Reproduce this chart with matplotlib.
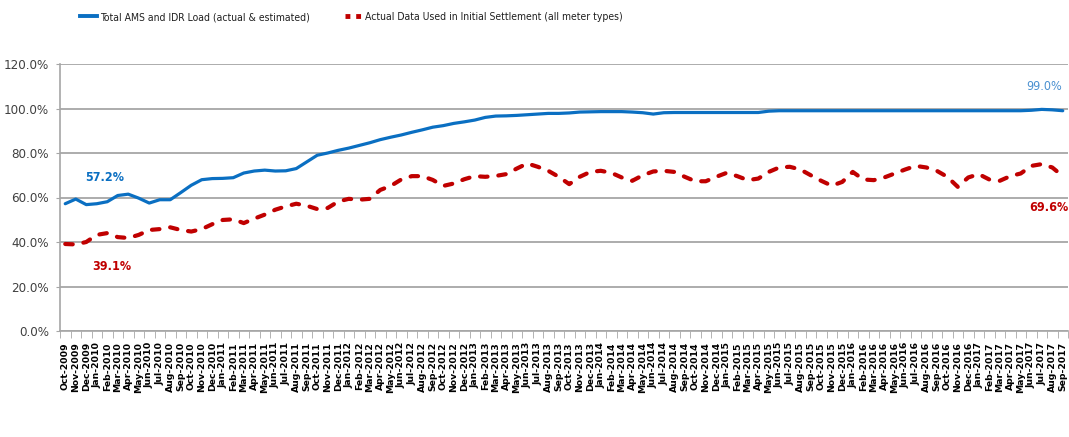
import matplotlib.pyplot as plt
from matplotlib import font_manager
from matplotlib.lines import Line2D
from matplotlib.ticker import FuncFormatter, FixedLocator
import pandas as pd

# monthly categories Oct-2009 .. Sep-2017
months = [d.strftime('%b-%Y') for d in pd.date_range('2009-10-01', '2017-09-01', freq='MS')]

total_load = [
    57.2, 59.3, 56.8, 57.2, 58.1, 60.9, 61.5, 59.7, 57.5, 59.0,
    59.0, 62.2, 65.5, 68.0, 68.5, 68.6, 68.9, 71.0, 71.9, 72.3,
    71.9, 72.0, 73.0, 76.0, 79.0, 80.0, 81.2, 82.2, 83.4, 84.6,
    86.0, 87.1, 88.1, 89.3, 90.4, 91.6, 92.3, 93.3, 94.0, 94.8,
    96.0, 96.6, 96.7, 96.9, 97.2, 97.5, 97.8, 97.8, 98.0, 98.4,
    98.5, 98.6, 98.6, 98.6, 98.4, 98.1, 97.5, 98.1, 98.2, 98.2,
    98.2, 98.2, 98.2, 98.2, 98.2, 98.2, 98.2, 98.8, 99.0, 99.0,
    99.0, 99.0, 99.0, 99.0, 99.0, 99.0, 99.0, 99.0, 99.0, 99.0,
    99.0, 99.0, 99.0, 99.0, 99.0, 99.0, 99.0, 99.0, 99.0, 99.0,
    99.0, 99.0, 99.2, 99.6, 99.4, 99.0,
]

actual_data = [
    39.1, 38.9, 40.0, 43.2, 44.0, 42.2, 41.8, 43.2, 45.4, 45.8,
    46.6, 45.4, 44.7, 45.8, 48.0, 49.9, 50.2, 48.5, 50.5, 52.3,
    54.5, 56.0, 57.2, 56.3, 54.8, 55.3, 58.2, 59.4, 59.0, 59.4,
    63.4, 65.2, 68.1, 69.6, 69.6, 67.9, 65.2, 66.3, 68.2, 69.6,
    69.3, 69.7, 70.5, 73.0, 75.3, 73.8, 72.0, 69.3, 66.0, 69.3,
    71.5, 72.0, 71.1, 69.0, 67.5, 70.0, 71.7, 72.0, 71.5, 69.3,
    67.3, 67.3, 69.3, 71.1, 69.6, 67.8, 68.5, 71.5, 73.5, 73.8,
    72.6, 70.0, 67.5, 65.3, 67.0, 71.5, 68.1, 67.8, 69.0, 70.8,
    72.6, 74.2, 73.5, 72.0, 69.3, 64.8, 69.0, 70.5, 68.1, 67.5,
    69.6, 70.8, 74.2, 75.0, 73.5, 69.6,
]

series_labels = ['Total AMS and IDR Load (actual & estimated)',
                 'Actual Data Used in Initial Settlement (all meter types)']

BLUE = '#0a6fc2'
RED = '#c00000'

# pick a narrow face if the system has one, else plain DejaVu Sans
stretch = 'normal'
narrow = 'DejaVu Sans'
for f in font_manager.fontManager.ttflist:
    if f.name in ('Liberation Sans Narrow', 'Arial Narrow'):
        narrow = f.name
        break
else:
    if any(f.name == 'DejaVu Sans' and f.stretch == 'condensed'
           for f in font_manager.fontManager.ttflist):
        stretch = 'condensed'
nf = dict(family=narrow, stretch=stretch)

fig = plt.figure(figsize=(10.69, 4.37), dpi=100)
ax = fig.add_axes([60 / 1069, 106 / 437, 1008 / 1069, 267 / 437])

x = list(range(len(months)))
ax.plot(x, total_load, color=BLUE, lw=2.3, solid_capstyle='round', zorder=3)
ax.plot(x, actual_data, color=RED, lw=3.0, linestyle=(0, (1.8, 2.6)),
        dash_capstyle='round', zorder=3)

ax.set_xlim(-0.5, len(months) - 0.5)
ax.set_ylim(0, 120)
ax.set_yticks(range(0, 121, 20))
ax.yaxis.set_major_formatter(FuncFormatter(lambda v, p: f'{v:.1f}%'))
ax.grid(axis='y', color='#a6a6a6', lw=1.3)
ax.set_axisbelow(True)

ax.set_xticks(x)
ax.set_xticklabels(months, rotation=90, fontsize=6.7, fontweight='bold',
                   family='DejaVu Sans')
ax.xaxis.set_minor_locator(FixedLocator([i - 0.5 for i in range(len(months) + 1)]))
ax.tick_params(axis='x', which='major', length=0, pad=8)
ax.tick_params(axis='x', which='minor', length=5, color='#a6a6a6')
ax.tick_params(axis='y', length=3, color='#a6a6a6', pad=5, labelsize=9.5,
               labelcolor='#404040')
for lbl in ax.get_yticklabels():
    lbl.set_family(narrow)
    lbl.set_fontstretch(stretch)

for s in ['top', 'right']:
    ax.spines[s].set_visible(False)
for s in ['left', 'bottom']:
    ax.spines[s].set_color('#a6a6a6')
    ax.spines[s].set_linewidth(1.2)

# point labels
ax.text(3.8, 68.8, f'{total_load[0]:.1f}%', color=BLUE, fontsize=9,
        fontweight='bold', ha='center', va='center', **nf)
ax.text(4.4, 28.8, f'{actual_data[0]:.1f}%', color=RED, fontsize=9,
        fontweight='bold', ha='center', va='center', **nf)
ax.text(93.2, 109.7, f'{total_load[-1]:.1f}%', color='#4a90d0', fontsize=9,
        ha='center', va='center', **nf)
ax.text(91.8, 55.3, f'{actual_data[-1]:.1f}%', color=RED, fontsize=9,
        fontweight='bold', ha='left', va='center', **nf)

# legend
h1 = Line2D([], [], color=BLUE, lw=2.8)
h2 = Line2D([], [], color=RED, lw=3.5, linestyle=(0, (1.0, 1.2)), dash_capstyle='butt')
leg_kw = dict(frameon=False, handlelength=1.6, handletextpad=0.3,
              prop={'family': narrow, 'stretch': stretch, 'size': 7.5}, labelcolor='#202020',
              loc='center left', borderaxespad=0, borderpad=0)
fig.legend([h1], [series_labels[0]], bbox_to_anchor=(80 / 1069, 1 - 17 / 437), **leg_kw)
fig.legend([h2], [series_labels[1]], bbox_to_anchor=(345 / 1069, 1 - 17 / 437), **leg_kw)

fig.savefig('out.png', dpi=100)
